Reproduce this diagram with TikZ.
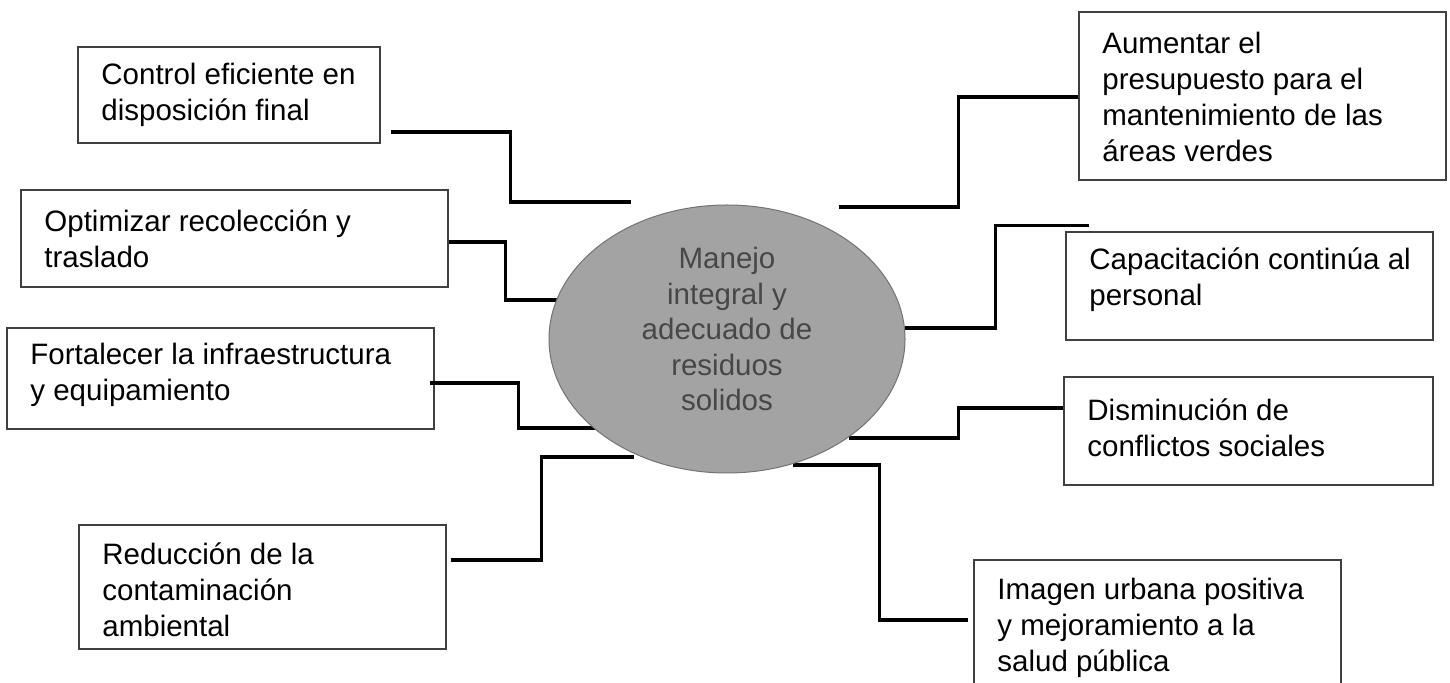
\documentclass[tikz,border=0pt]{standalone}
\usepackage{fontspec}
\setmainfont{Liberation Sans}
\usetikzlibrary{shapes.geometric}
\begin{document}
\begin{tikzpicture}[x=0.5pt,y=-0.5pt,
  box/.style={draw=black!75, line width=0.7pt, fill=white, inner sep=0pt},
  txt/.style={anchor=west, align=left, inner sep=0pt, font=\fontsize{14.75}{18}\selectfont},
  conn/.style={line width=1.7pt, black},
  hub/.style={ellipse, draw=black!55, line width=0.5pt, fill=black!36, inner sep=0pt},
  hubtext/.style={align=center, text=black!72, font=\fontsize{14.75}{17.75}\selectfont}
]
\useasboundingbox (0,0) rectangle (1450,683);
\clip (0,0) rectangle (1450,683);

% end points at the hub
\coordinate (e1) at (631,202);
\coordinate (e2) at (562,300);
\coordinate (e3) at (604,428);
\coordinate (e4) at (634,457);
\coordinate (eA) at (839,207);
\coordinate (eC) at (905,328);
\coordinate (eD) at (849,438);
\coordinate (eI) at (793,465);

% boxes
\node[box, minimum width=151pt, minimum height=48pt] (B1) at (229,95) {};
\node[box, minimum width=213.5pt, minimum height=48.5pt] (B2) at (234.5,238.5) {};
\node[box, minimum width=213.5pt, minimum height=50.5pt] (B3) at (220.5,378.5) {};
\node[box, minimum width=183.5pt, minimum height=62pt] (B4) at (262.5,587) {};
\node[box, minimum width=183.5pt, minimum height=84pt] (A) at (1262.5,96) {};
\node[box, minimum width=183.5pt, minimum height=54pt] (C) at (1249.5,286) {};
\node[box, minimum width=184.5pt, minimum height=54pt] (D) at (1248.5,431) {};
\node[box, minimum width=183.5pt, minimum height=67pt] (I) at (1157.5,627) {};

% box texts
\node[txt] (t1) at (101,94.5) {Control eficiente en\\disposición final};
\node[txt] (t2) at (44,238.5) {Optimizar recolección y\\traslado};
\node[txt] (t3) at (30,375) {Fortalecer la infraestructura\\y equipamiento};
\node[txt] (t4) at (102,590) {Reducción de la\\contaminación\\ambiental};
\node[txt] (tA) at (1102,96.5) {Aumentar el\\presupuesto para el\\mantenimiento de las\\áreas verdes};
\node[txt] (tC) at (1089,280) {Capacitación continúa al\\personal};
\node[txt] (tD) at (1087,427.5) {Disminución de\\conflictos sociales};
\node[txt] (tI) at (997,627.5) {Imagen urbana positiva\\y mejoramiento a la\\salud pública};

% connectors
\draw[conn] ([xshift=5pt,yshift=-18.5pt]B1.east) -- ++(120,0) |- (e1);
\draw[conn] ([yshift=-1.75pt]B2.east) -- ++(57,0) |- (e2);
\draw[conn] ([xshift=-2.5pt,yshift=-2.25pt]B3.east) -- ++(89,0) |- (e3);
\draw[conn] ([xshift=2pt,yshift=13.5pt]B4.east) -- ++(91,0) |- (e4);
\draw[conn] ([yshift=-0.5pt]A.west) -- ++(-120,0) |- (eA);
\draw[conn] ([xshift=12pt,yshift=3pt]C.north west) -- ++(-94,0) |- (eC);
\draw[conn] ([yshift=11.5pt]D.west) -- ++(-105,0) |- (eD);
\draw[conn] ([xshift=-2.5pt,yshift=3.5pt]I.west) -- ++(-89,0) |- (eI);

% hub
\node[hub, minimum width=178pt, minimum height=134pt] (E) at (727,339) {};
\node[hubtext] (Et) at (727,329) {Manejo\\integral y\\adecuado de\\residuos\\solidos};
\end{tikzpicture}
\end{document}
